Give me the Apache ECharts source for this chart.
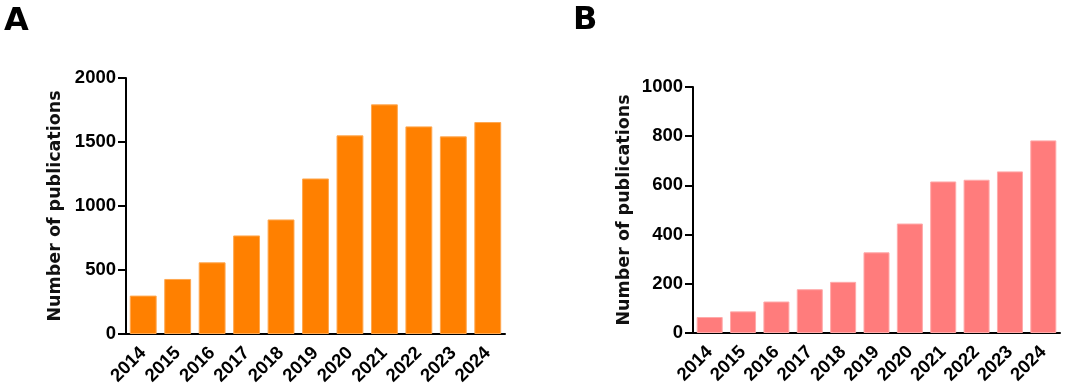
<!DOCTYPE html>
<html>
<head>
<meta charset="utf-8">
<script src="https://cdn.jsdelivr.net/npm/echarts@6/dist/echarts.min.js"></script>
<style>
  html, body { margin: 0; padding: 0; background: #fff; }
  #main { width: 1065px; height: 388px; }
</style>
</head>
<body>
<div id="main"></div>
<script>
var years = ['2014','2015','2016','2017','2018','2019','2020','2021','2022','2023','2024'];
var pubsA = [300, 430, 560, 770, 895, 1215, 1552, 1794, 1622, 1544, 1656];
var pubsB = [65, 88, 128, 178, 208, 328, 445, 616, 623, 657, 783];
var yName = 'Number of publications';

var myChart = echarts.init(document.getElementById('main'));

function xAxisOf(idx) {
  return {
    type: 'category',
    gridIndex: idx,
    data: years,
    axisLine: { lineStyle: { color: '#000', width: 2 } },
    axisTick: { alignWithLabel: true, interval: 0, length: 8, lineStyle: { color: '#000', width: 2 } },
    axisLabel: {
      interval: 0, rotate: 45, margin: 16, color: '#000',
      fontFamily: 'Liberation Sans', fontWeight: 'bold', fontSize: 18.5
    }
  };
}

function yAxisOf(idx, max, step, gap) {
  return {
    type: 'value',
    gridIndex: idx,
    min: 0, max: max, interval: step,
    name: yName,
    nameLocation: 'middle',
    nameGap: gap,
    nameTextStyle: { fontFamily: 'DejaVu Sans', fontWeight: 'bold', fontSize: 17.5, color: '#111' },
    splitLine: { show: false },
    axisLine: { show: true, lineStyle: { color: '#000', width: 2 } },
    axisTick: { show: true, length: 8, lineStyle: { color: '#000', width: 2 } },
    axisLabel: {
      margin: 10, color: '#000',
      formatter: function (v) { return String(v); },
      fontFamily: 'Liberation Sans', fontWeight: 'bold', fontSize: 18.5
    }
  };
}

var option = {
  animation: false,
  title: [
    { text: 'A', left: -1, top: 1, textStyle: { fontFamily: 'DejaVu Sans', fontWeight: 'bold', fontSize: 32, color: '#000' } },
    { text: 'B', left: 568, top: 0, textStyle: { fontFamily: 'DejaVu Sans', fontWeight: 'bold', fontSize: 32, color: '#000' } }
  ],
  grid: [
    { left: 126, width: 379, top: 78, height: 256 },
    { left: 693, width: 367, top: 87, height: 246 }
  ],
  xAxis: [xAxisOf(0), xAxisOf(1)],
  yAxis: [yAxisOf(0, 2000, 500, 62), yAxisOf(1, 1000, 200, 60)],
  series: [
    {
      type: 'bar', xAxisIndex: 0, yAxisIndex: 0, data: pubsA,
      barCategoryGap: '22%',
      itemStyle: { color: '#FF8000', borderColor: '#FFA850', borderWidth: 1 }
    },
    {
      type: 'bar', xAxisIndex: 1, yAxisIndex: 1, data: pubsB,
      barCategoryGap: '22%',
      itemStyle: { color: '#FF7C7C', borderColor: '#FFAAAA', borderWidth: 1 }
    }
  ]
};
myChart.setOption(option);
window.addEventListener('resize', function () {
  myChart.resize();
});
</script>
</body>
</html>
